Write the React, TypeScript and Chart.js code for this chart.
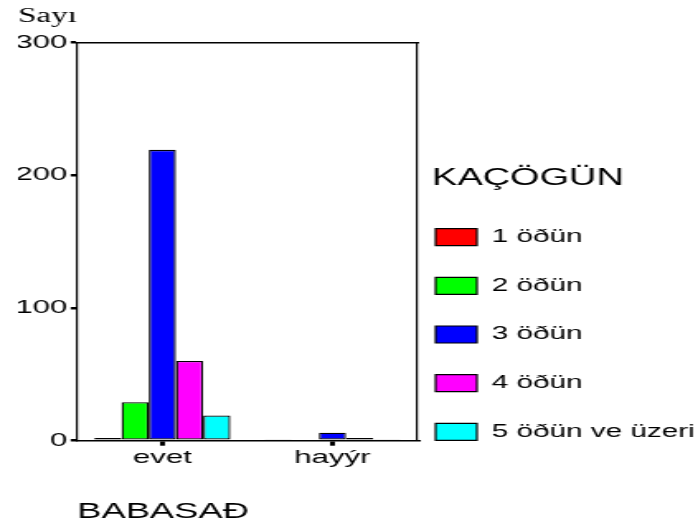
import { useEffect, useRef } from 'react';
import { Chart, registerables } from 'chart.js';

Chart.register(...registerables);

// ---- data ----
const categories = ['evet', 'hayýr'];
const seriesLabels = ['1 öðün', '2 öðün', '3 öðün', '4 öðün', '5 öðün ve üzeri'];
const meal1 = [2, 1];
const meal2 = [29, 0];
const meal3 = [219, 6];
const meal4 = [60, 2];
const meal5 = [19, 1];
const seriesColors = ['#ff0000', '#00ff00', '#0000ff', '#ff00ff', '#00ffff'];
const yTicks = [0, 100, 200, 300];
const yTitle = 'Sayı';
const xTitle = 'BABASAÐ';
const legendTitle = 'KAÇÖGÜN';

// canvas is drawn narrower and stretched horizontally (like the reference)
const INNER_W = 423;
const INNER_H = 524;

export default function App() {
  const ref = useRef<HTMLCanvasElement>(null);

  useEffect(() => {
    const canvas = ref.current;
    if (!canvas) return;
    Chart.defaults.font.family = "'Liberation Sans', Arial, sans-serif";
    Chart.defaults.color = '#000';
    const series = [meal1, meal2, meal3, meal4, meal5];
    const chart = new Chart(canvas, {
      type: 'bar',
      data: {
        labels: categories,
        datasets: series.map((d, i) => ({
          label: seriesLabels[i],
          data: d,
          backgroundColor: seriesColors[i],
          borderColor: '#000',
          borderWidth: 1.3,
          borderSkipped: false,
          categoryPercentage: 0.8,
          barPercentage: 1,
        })),
      },
      options: {
        responsive: false,
        animation: false,
        devicePixelRatio: 1,
        layout: { padding: { left: 11, right: 0, top: 0, bottom: 0 } },
        scales: {
          x: {
            type: 'category',
            position: 'bottom',
            offset: true,
            grid: {
              display: true,
              drawOnChartArea: false,
              offset: false,
              tickLength: 5,
              lineWidth: 3,
              color: '#000',
              tickColor: '#000',
            },
            border: { display: true, color: '#000', width: 1.5 },
            ticks: { font: { size: 19 }, color: '#000', padding: 1, maxRotation: 0, autoSkip: false },
            title: {
              display: true,
              text: xTitle,
              align: 'start',
              color: '#000',
              font: { size: 22, lineHeight: 1 },
              padding: { top: 31.5, bottom: 1 },
            },
            afterFit: (s: any) => {
              s.height = 83.3;
            },
          },
          y: {
            type: 'linear',
            position: 'left',
            min: 0,
            max: 300,
            afterBuildTicks: (s: any) => {
              s.ticks = yTicks.map((v) => ({ value: v }));
            },
            grid: {
              display: true,
              drawOnChartArea: false,
              tickLength: 4,
              lineWidth: 2.5,
              color: '#000',
              tickColor: '#000',
            },
            border: { display: true, color: '#000', width: 1.2 },
            ticks: { font: { size: 19 }, color: '#000', padding: 2 },
            afterFit: (s: any) => {
              s.width = 35.85;
            },
          },
          y2: {
            type: 'linear',
            position: 'right',
            grid: { display: false, drawTicks: false },
            ticks: { display: false },
            border: { display: true, color: '#000', width: 1.2 },
            afterFit: (s: any) => {
              s.width = 8.8;
            },
          },
          x2: {
            type: 'linear',
            position: 'top',
            grid: { display: false, drawTicks: false },
            ticks: { display: false },
            border: { display: true, color: '#000', width: 1.5 },
            afterFit: (s: any) => {
              s.height = 0;
            },
          },
        },
        plugins: {
          tooltip: { enabled: false },
          title: {
            display: true,
            text: yTitle,
            align: 'start',
            color: '#000',
            font: { family: "'Liberation Serif', 'Times New Roman', serif", size: 20, weight: 'normal' },
            padding: { top: 4.5, bottom: 13.8 },
          },
          legend: {
            display: true,
            position: 'right',
            align: 'start',
            maxWidth: 161.2,
            title: {
              display: true,
              text: legendTitle,
              position: 'start',
              color: '#000',
              font: { size: 23 },
              padding: { top: 167.5, bottom: 30.8 },
            },
            labels: {
              boxWidth: 25,
              boxHeight: 17,
              padding: 2.2,
              color: '#000',
              font: { size: 18, lineHeight: '46.5px' },
              generateLabels: (c: any) =>
                c.data.datasets.map((ds: any, i: number) => ({
                  text: [ds.label],
                  fillStyle: ds.backgroundColor,
                  strokeStyle: '#000',
                  lineWidth: 1.2,
                  hidden: false,
                  datasetIndex: i,
                })),
            },
          },
        },
      } as any,
    });
    return () => chart.destroy();
  }, []);

  return (
    <div style={{ position: 'absolute', left: 0, top: 0, width: 698, height: 524, background: '#fff' }}>
      <canvas
        ref={ref}
        width={INNER_W}
        height={INNER_H}
        style={{ display: 'block', width: '698px', height: '524px' }}
      />
    </div>
  );
}
